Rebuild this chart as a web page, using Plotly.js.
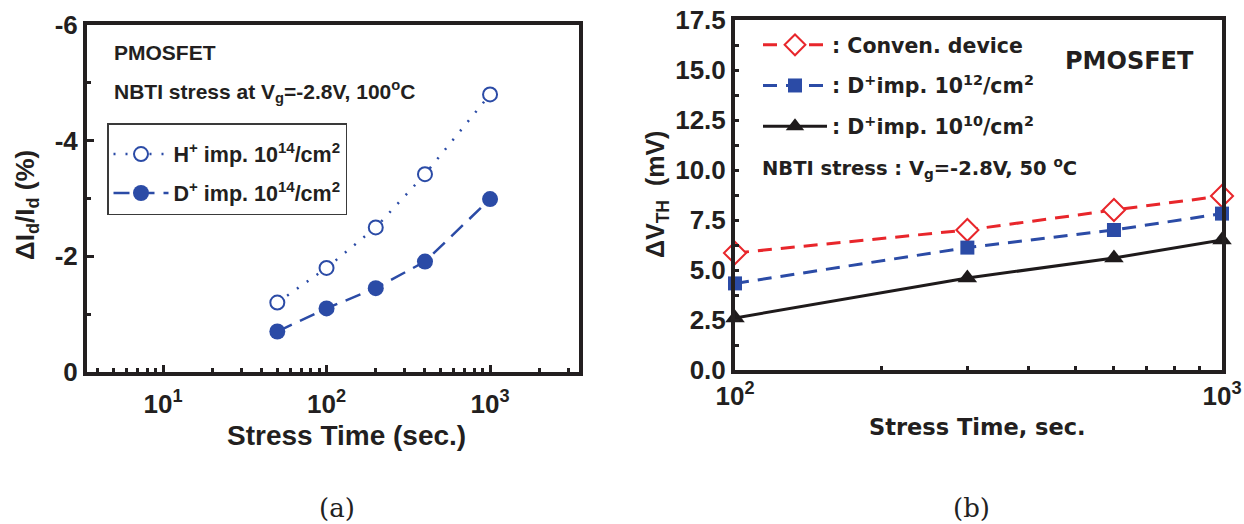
<!DOCTYPE html>
<html>
<head>
<meta charset="utf-8">
<script src="https://cdn.plot.ly/plotly-3.0.1.min.js"></script>
<style>html,body{margin:0;padding:0;background:#fff;}#chart{width:1244px;height:524px;}</style>
</head>
<body>
<div id="chart"></div>
<script>
// ---- Data: panel (a) ----
const timeA = [50, 100, 200, 400, 1000];
const hImp14 = [-1.2, -1.8, -2.5, -3.42, -4.8];
const dImp14 = [-0.7, -1.1, -1.45, -1.91, -2.99];
const namesA = ['H<sup>+</sup> imp. 10<sup>14</sup>/cm<sup>2</sup>', 'D<sup>+</sup> imp. 10<sup>14</sup>/cm<sup>2</sup>'];
const xTicksA = [10, 100, 1000];
const xTickTextA = ['10<sup>1</sup>', '10<sup>2</sup>', '10<sup>3</sup>'];
const yTicksA = [0, -2, -4, -6];
const yTickTextA = ['0', '-2', '-4', '-6'];

// ---- Data: panel (b) ----
const timeB = [100, 300, 600, 1000];
const convDevice = [5.85, 7.0, 8.0, 8.7];
const dImp12 = [4.33, 6.12, 7.0, 7.82];
const dImp10 = [2.6, 4.6, 5.6, 6.5];
const namesB = [': Conven. device', ': D<sup>+</sup>imp. 10<sup>12</sup>/cm<sup>2</sup>', ': D<sup>+</sup>imp. 10<sup>10</sup>/cm<sup>2</sup>'];
const xTicksB = [100, 1000];
const xTickTextB = ['10<sup>2</sup>', '10<sup>3</sup>'];
const yTicksB = [0, 2.5, 5, 7.5, 10, 12.5, 15, 17.5];
const yTickTextB = ['0.0', '2.5', '5.0', '7.5', '10.0', '12.5', '15.0', '17.5'];

const W = 1244, H = 524;
const px = v => v / W, py = v => 1 - v / H;
const SANS = "'Liberation Sans', Arial, sans-serif";
const DJV = "'DejaVu Sans', sans-serif";
const SERIF = "'DejaVu Serif', 'Liberation Serif', serif";
const BLUE = '#2b4ba6', RED = '#e8262b', BLK = '#1e1a1b', AX = '#231f20';

const minorA = [4,5,6,7,8,9,20,30,40,50,60,70,80,90,200,300,400,500,600,700,800,900,2000,3000];
const minorB = [200,300,400,500,600,700,800,900];

const traces = [
  {x: timeA, y: hImp14, name: namesA[0], xaxis: 'x', yaxis: 'y', legend: 'legend', legendgroup: 'a1',
   mode: 'lines+markers', line: {color: BLUE, width: 2.5, dash: '2px,10px'},
   marker: {symbol: 'circle', size: 14, color: '#fff', line: {color: BLUE, width: 2}}},
  {x: timeA, y: dImp14, name: namesA[1], xaxis: 'x', yaxis: 'y', legend: 'legend', legendgroup: 'a2',
   mode: 'lines+markers', line: {color: BLUE, width: 2.5, dash: '16px,9px'},
   marker: {symbol: 'circle', size: 16, color: BLUE}},
  {x: timeB, y: convDevice, name: namesB[0], xaxis: 'x2', yaxis: 'y2', legend: 'legend2', legendgroup: 'b1',
   mode: 'lines+markers', cliponaxis: false, line: {color: RED, width: 3, dash: '14px,9px'},
   marker: {symbol: 'diamond', size: 17, color: '#fff', line: {color: RED, width: 2}}},
  {x: timeB, y: dImp12, name: namesB[1], xaxis: 'x2', yaxis: 'y2', legend: 'legend2', legendgroup: 'b2',
   mode: 'lines+markers', cliponaxis: false, line: {color: BLUE, width: 3, dash: '14px,9px'},
   marker: {symbol: 'square', size: 14, color: BLUE}},
  {x: timeB, y: dImp10, name: namesB[2], xaxis: 'x2', yaxis: 'y2', legend: 'legend2', legendgroup: 'b3',
   mode: 'lines+markers', cliponaxis: false, line: {color: BLK, width: 3},
   marker: {symbol: 'triangle-up', size: 17, color: BLK}}
];

const axBase = {showline: true, linewidth: 4, linecolor: AX, mirror: true, showgrid: false, zeroline: false,
  ticks: 'inside', ticklen: 7, tickwidth: 3, tickcolor: AX, fixedrange: true};

function note(text, x, y, size, family, extra) {
  return Object.assign({text: text, x: px(x), y: py(y), xref: 'paper', yref: 'paper',
    xanchor: 'center', yanchor: 'middle', showarrow: false,
    font: {family: family, size: size, weight: 'bold', color: AX}}, extra || {});
}

const layout = {
  width: W, height: H, margin: {l: 0, r: 0, t: 0, b: 0},
  paper_bgcolor: '#fff', plot_bgcolor: '#fff', showlegend: true,
  font: {family: SANS, color: AX, weight: 'bold'},
  xaxis: Object.assign({}, axBase, {type: 'log', range: [0.535, 3.544], domain: [px(87), px(579)], anchor: 'y',
    tickmode: 'array', tickvals: xTicksA, ticktext: xTickTextA, tickfont: {size: 26, family: SANS, weight: 'bold'},
    ticklabelstandoff: 6,
    minor: {tickmode: 'array', tickvals: minorA, ticks: 'inside', ticklen: 4, tickwidth: 3, tickcolor: AX}}),
  yaxis: Object.assign({}, axBase, {range: [0, -6], domain: [py(372), py(25)], anchor: 'x',
    tickmode: 'array', tickvals: yTicksA, ticktext: yTickTextA, tickfont: {size: 26, family: SANS, weight: 'bold'},
    minor: {tickmode: 'array', tickvals: [-1, -3, -5], ticks: 'inside', ticklen: 4, tickwidth: 3, tickcolor: AX}}),
  xaxis2: Object.assign({}, axBase, {type: 'log', range: [2, 3], domain: [px(735), px(1222)], anchor: 'y2',
    tickmode: 'array', tickvals: xTicksB, ticktext: xTickTextB, tickfont: {size: 26, family: SANS, weight: 'bold'},
    minor: {tickmode: 'array', tickvals: minorB, ticks: 'inside', ticklen: 4, tickwidth: 3, tickcolor: AX}}),
  yaxis2: Object.assign({}, axBase, {range: [0, 17.5], domain: [py(370), py(20)], anchor: 'x2',
    tickmode: 'array', tickvals: yTicksB, ticktext: yTickTextB, tickfont: {size: 26, family: SANS, weight: 'bold'},
    ticklen: 4,
    minor: {tickmode: 'array', tickvals: [1.25,3.75,6.25,8.75,11.25,13.75,16.25], ticks: 'inside', ticklen: 4, tickwidth: 3, tickcolor: AX}}),
  legend: {x: px(107), y: py(123), xanchor: 'left', yanchor: 'top', bgcolor: '#fff',
    bordercolor: '#3a3a3a', borderwidth: 1.5, traceorder: 'grouped', tracegroupgap: 8, itemwidth: 55,
    title: {text: ' ', font: {size: 7}},
    font: {family: SANS, size: 21.5, weight: 'bold', color: AX}},
  legend2: {x: px(758), y: py(25), xanchor: 'left', yanchor: 'top', bgcolor: 'rgba(0,0,0,0)',
    borderwidth: 0, traceorder: 'grouped', tracegroupgap: 11, itemwidth: 64,
    font: {family: DJV, size: 20.5, weight: 'bold', color: AX}},
  annotations: [
    note('PMOSFET', 112, 52, 21, SANS, {xanchor: 'left'}),
    note('NBTI stress at V<sub>g</sub>=-2.8V, 100<sup>o</sup>C', 112, 92, 21, SANS, {xanchor: 'left'}),
    note('ΔI<sub>d</sub>/I<sub>d</sub> (%)', 27, 205, 26, SANS, {textangle: -90}),
    note('Stress Time (sec.)', 346, 435, 28, SANS),
    note('PMOSFET', 1063, 61, 24, DJV, {xanchor: 'left'}),
    note('NBTI stress : V<sub>g</sub>=-2.8V, 50 <sup>o</sup>C', 760, 168, 19.5, DJV, {xanchor: 'left'}),
    note('ΔV<sub>TH</sub>&nbsp;&nbsp;(mV)', 657, 195, 25, SANS, {textangle: -90}),
    note('Stress Time, sec.', 977, 427, 22.5, DJV),
    note('(a)', 337, 508, 26, SERIF, {font: {family: SERIF, size: 26, weight: 'normal', color: '#222'}}),
    note('(b)', 971, 508, 26, SERIF, {font: {family: SERIF, size: 26, weight: 'normal', color: '#222'}})
  ]
};

Plotly.newPlot('chart', traces, layout, {staticPlot: true, displayModeBar: false});
</script>
</body>
</html>
